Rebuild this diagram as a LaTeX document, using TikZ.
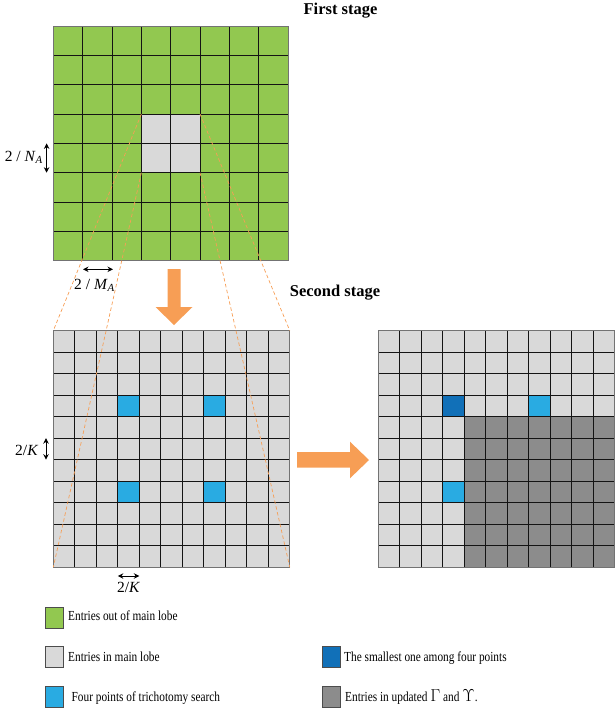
\documentclass[tikz,border=0pt]{standalone}
\usepackage[no-math]{fontspec}
\setmainfont{Liberation Serif}
\newfontfamily\keyfont[FakeStretch=0.82]{Liberation Serif}
\usetikzlibrary{arrows.meta}

\definecolor{lobegreen}{HTML}{92C850}
\definecolor{lobegray}{HTML}{D9D9D9}
\definecolor{searchblue}{HTML}{29ABE2}
\definecolor{minblue}{HTML}{1170B8}
\definecolor{updgray}{HTML}{8C8C8C}
\definecolor{zoomorange}{HTML}{F79E55}

\begin{document}
\begin{tikzpicture}[x=1pt,y=-1pt,
  gridline/.style={draw=black!92,line width=0.95pt},
  gridframe/.style={draw=black!55,line width=1pt},
  zoomline/.style={draw=zoomorange,line width=0.7pt,dash pattern=on 3.5pt off 2.5pt},
  dimarrow/.style={{Stealth[length=5.5pt,width=5.5pt]}-{Stealth[length=5.5pt,width=5.5pt]},line width=0.9pt},
  stagelabel/.style={font=\bfseries\fontsize{16.5}{19}\selectfont,inner sep=0pt},
  dimlabel/.style={font=\fontsize{15.5}{17}\selectfont,inner sep=0pt},
  keybox/.style={draw=black!70,line width=0.8pt,minimum width=18pt,minimum height=21pt,inner sep=0pt},
  keytext/.style={font=\keyfont\fontsize{13.8}{16}\selectfont,anchor=base west,inner sep=0pt}]
\useasboundingbox (0,0) rectangle (614,713);

% first stage
\node[stagelabel,anchor=base] (first) at (340.5,14.3) {First stage};
\begin{scope}[shift={(53.3,26)},x=29.35pt,y=-29.35pt]
  \fill[lobegreen] (0,0) rectangle (8,8);
  \fill[lobegray] (3,3) rectangle (5,5);
  \foreach \k in {1,...,7}
    \draw[gridline] (\k,0) -- (\k,8) (0,\k) -- (8,\k);
  \draw[gridframe] (0,0) rectangle (8,8);
  \coordinate (ctl) at (3,3);
  \coordinate (cbl) at (3,5);
  \coordinate (ctr) at (5,3);
  \coordinate (cbr) at (5,5);
\end{scope}

\coordinate (na1) at (46.6,143.4);
\coordinate (na2) at (46.6,172.7);
\draw[dimarrow] (na1) -- (na2);
\node[dimlabel,anchor=base east] (nalab) at (43,161) {2 / \textit{N}\textsubscript{\textit{A}}};
\coordinate (ma1) at (83,269.3);
\coordinate (ma2) at (113,269.3);
\draw[dimarrow] (ma1) -- (ma2);
\node[dimlabel,anchor=base] (malab) at (94.5,289.3) {2 / \textit{M}\textsubscript{\textit{A}}};

% arrow down
\fill[zoomorange] (167.5,269) -- (180.5,269) -- (180.5,307) -- (192.5,307)
  -- (174,325) -- (155.5,307) -- (167.5,307) -- cycle;

% second stage
\node[stagelabel,anchor=base] (second) at (335,296) {Second stage};
\begin{scope}[shift={(53.3,330.7)},x=21.5pt,y=-21.5pt]
  \fill[lobegray] (0,0) rectangle (11,11);
  \foreach \i/\j in {3/3,7/3,3/7,7/7}
    \fill[searchblue] (\i,\j) rectangle ++(1,1);
  \foreach \k in {1,...,10}
    \draw[gridline] (\k,0) -- (\k,11) (0,\k) -- (11,\k);
  \draw[gridframe] (0,0) rectangle (11,11);
  \coordinate (stl) at (0,0);
  \coordinate (sbl) at (0,11);
  \coordinate (str) at (11,0);
  \coordinate (sbr) at (11,11);
\end{scope}

\draw[zoomline] (ctl) -- (stl) (cbl) -- (sbl) (ctr) -- (str) (cbr) -- (sbr);

\coordinate (k1) at (46,438.2);
\coordinate (k2) at (46,459.7);
\draw[dimarrow] (k1) -- (k2);
\node[dimlabel,anchor=base east] (klab) at (38.5,455) {2/\textit{K}};
\coordinate (kh1) at (117.8,576);
\coordinate (kh2) at (139.3,576);
\draw[dimarrow] (kh1) -- (kh2);
\node[dimlabel,anchor=base] (khlab) at (128.7,592.3) {2/\textit{K}};

% arrow right
\fill[zoomorange] (297,452) -- (350,452) -- (350,441.7) -- (369,460)
  -- (350,478.3) -- (350,467.5) -- (297,467.5) -- cycle;

\begin{scope}[shift={(378.3,330.7)},x=21.5pt,y=-21.5pt]
  \fill[lobegray] (0,0) rectangle (11,11);
  \fill[updgray] (4,4) rectangle (11,11);
  \fill[minblue] (3,3) rectangle ++(1,1);
  \foreach \i/\j in {7/3,3/7}
    \fill[searchblue] (\i,\j) rectangle ++(1,1);
  \foreach \k in {1,...,10}
    \draw[gridline] (\k,0) -- (\k,11) (0,\k) -- (11,\k);
  \draw[gridframe] (0,0) rectangle (11,11);
\end{scope}

% legend
\node[keybox,fill=lobegreen] (keyout) at (54,617.5) {};
\node[keytext] (txtout) at (68,620.5) {Entries out of main lobe};
\node[keybox,fill=lobegray] (keyin) at (54,656.5) {};
\node[keytext] (txtin) at (68,661) {Entries in main lobe};
\node[keybox,fill=searchblue] (keyfour) at (54,697) {};
\node[keytext] (txtfour) at (71.5,701.5) {Four points of trichotomy search};
\node[keybox,fill=minblue] (keymin) at (331.5,656.5) {};
\node[keytext] (txtmin) at (344,661) {The smallest one among four points};
\node[keybox,fill=updgray] (keyupd) at (331.5,697) {};
\node[keytext] (txtupd) at (345,701.5) {Entries in updated {\fontsize{17}{19}\selectfont$\Gamma$} and {\fontsize{17}{19}\selectfont$\Upsilon$}.};
\end{tikzpicture}
\end{document}
